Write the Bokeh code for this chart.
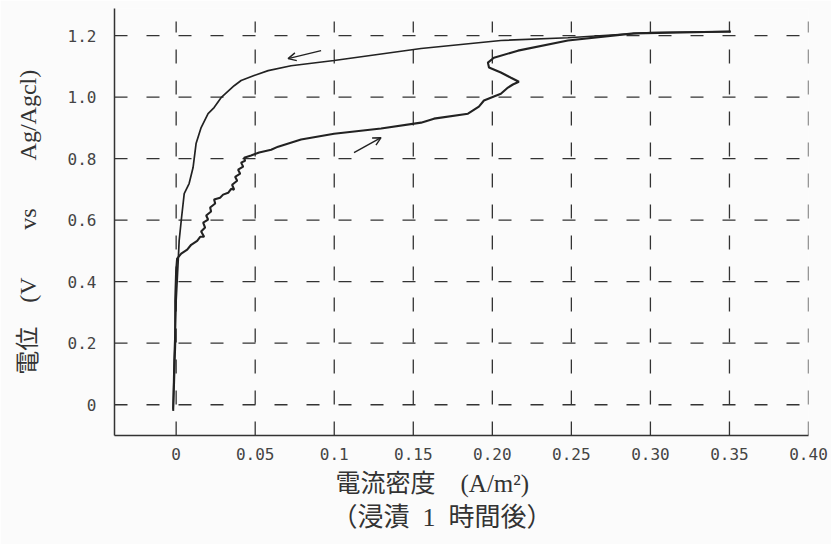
from bokeh.plotting import figure
from bokeh.models import FixedTicker, Arrow, OpenHead, Range1d, Title
from bokeh.embed import file_html
from bokeh.resources import INLINE

# Axis ticks and their printed labels
X_TICKS = [0, 0.05, 0.1, 0.15, 0.2, 0.25, 0.3, 0.35, 0.4]
X_LABELS = ["0", "0.05", "0.1", "0.15", "0.20", "0.25", "0.30", "0.35", "0.40"]
Y_TICKS = [0, 0.2, 0.4, 0.6, 0.8, 1.0, 1.2]
Y_LABELS = ["0", "0.2", "0.4", "0.6", "0.8", "1.0", "1.2"]

# Anodic (forward) sweep: current density (A/m2) vs potential (V vs Ag/AgCl)
fwd_i = [-0.0019, -0.0013, -0.0006, -0.0006, 0.0, 0.0006, 0.0032, 0.0070, 0.0095,
         0.0133, 0.0152, 0.0177, 0.0158, 0.0183, 0.0171, 0.0202, 0.0190, 0.0221,
         0.0215, 0.0247, 0.0240, 0.0278, 0.0297, 0.0329, 0.0348, 0.0367, 0.0354,
         0.0386, 0.0373, 0.0405, 0.0392, 0.0424, 0.0411, 0.0436, 0.0430, 0.0474,
         0.0525, 0.0601, 0.0645, 0.0790, 0.0999, 0.1296, 0.1549, 0.1631, 0.1846,
         0.1915, 0.1947, 0.2010, 0.2054, 0.2099, 0.2130, 0.2168, 0.2118, 0.2054,
         0.1979, 0.1972, 0.2010, 0.2162, 0.2478, 0.2895, 0.3508]
fwd_v = [-0.020, 0.078, 0.198, 0.338, 0.436, 0.475, 0.491, 0.504, 0.520,
         0.533, 0.546, 0.546, 0.563, 0.576, 0.592, 0.602, 0.615, 0.628,
         0.641, 0.654, 0.667, 0.673, 0.683, 0.689, 0.702, 0.699, 0.715,
         0.728, 0.741, 0.751, 0.764, 0.774, 0.787, 0.793, 0.803, 0.810,
         0.820, 0.829, 0.839, 0.862, 0.881, 0.898, 0.917, 0.930, 0.946,
         0.969, 0.989, 1.002, 1.011, 1.031, 1.041, 1.050, 1.063, 1.080,
         1.096, 1.112, 1.128, 1.151, 1.184, 1.207, 1.213]

# Reverse sweep back to the rest potential
rev_i = [0.3508, 0.3003, 0.2478, 0.2054, 0.1549, 0.0999, 0.0727, 0.0582, 0.0493,
         0.0411, 0.0367, 0.0284, 0.0240, 0.0202, 0.0158, 0.0126, 0.0107, 0.0082,
         0.0051, 0.0032, 0.0019, 0.0013, 0.0, -0.0013, -0.0019]
rev_v = [1.213, 1.210, 1.193, 1.184, 1.158, 1.119, 1.102, 1.086, 1.070,
         1.054, 1.037, 0.998, 0.966, 0.946, 0.901, 0.849, 0.771, 0.719,
         0.686, 0.598, 0.533, 0.468, 0.338, 0.143, -0.013]

X_MIN, X_MAX = -0.039, 0.40
Y_MIN, Y_MAX = -0.1, 1.288
GRID_TOP = 1.2455

INK = "#222222"
BG = "#fbfbfb"
SERIF_CJK = "Liberation Serif, Noto Sans CJK JP"

p = figure(width=831, height=544, output_backend="svg", toolbar_location=None,
           x_range=Range1d(X_MIN, X_MAX), y_range=Range1d(Y_MIN, Y_MAX),
           min_border_left=114, min_border_right=23,
           min_border_top=8, min_border_bottom=109)
p.background_fill_color = BG
p.border_fill_color = BG
p.outline_line_color = None
p.xgrid.visible = False
p.ygrid.visible = False

# Dashed plotter-style grid
p.segment(x0=[X_MIN] * len(Y_TICKS), y0=Y_TICKS, x1=[X_MAX] * len(Y_TICKS), y1=Y_TICKS,
          line_color="#333333", line_width=1.3, line_dash="13 19")
p.segment(x0=X_TICKS, y0=[Y_MIN] * len(X_TICKS), x1=X_TICKS, y1=[GRID_TOP] * len(X_TICKS),
          line_color="#333333", line_width=1.3, line_dash="14 17")

# Polarization curve
p.line(fwd_i, fwd_v, line_color=INK, line_width=2.1)
p.line(rev_i, rev_v, line_color=INK, line_width=1.7)

# Sweep direction arrows
p.add_layout(Arrow(end=OpenHead(size=8, line_width=1.4, line_color=INK),
                   x_start=0.0917, y_start=1.151, x_end=0.0708, y_end=1.125,
                   line_color=INK, line_width=1.4))
p.add_layout(Arrow(end=OpenHead(size=8, line_width=1.4, line_color=INK),
                   x_start=0.1125, y_start=0.8195, x_end=0.1296, y_end=0.868,
                   line_color=INK, line_width=1.4))

for ax in (p.xaxis[0], p.yaxis[0]):
    ax.axis_line_color = "#333333"
    ax.axis_line_width = 1.5
    ax.major_tick_line_color = None
    ax.minor_tick_line_color = None
    ax.major_label_text_font = "DejaVu Sans Mono"
    ax.major_label_text_font_size = "16px"
    ax.major_label_text_color = "#444444"

p.xaxis.ticker = FixedTicker(ticks=X_TICKS)
p.xaxis.major_label_overrides = dict(zip(X_TICKS, X_LABELS))
p.xaxis.major_label_standoff = 6

p.yaxis.ticker = FixedTicker(ticks=Y_TICKS)
p.yaxis.major_label_overrides = dict(zip(Y_TICKS, Y_LABELS))
p.yaxis.major_label_standoff = 12
p.yaxis.axis_label = "電位\u3000(V\u3000\u3000vs\u3000\u3000Ag/Agcl)"
p.yaxis.axis_label_text_font = SERIF_CJK
p.yaxis.axis_label_text_font_size = "24px"
p.yaxis.axis_label_text_font_style = "normal"
p.yaxis.axis_label_text_color = "#333333"
p.yaxis.axis_label_standoff = 24

# Two-line caption under the x axis
for text, size, standoff, offset in (("電流密度\u3000(A/m²)", "25px", 11, 221),
                                     ("（浸漬\u20021\u2002時間後）", "26px", -4, 217)):
    p.add_layout(Title(text=text, align="left", offset=offset, standoff=standoff,
                       text_font=SERIF_CJK, text_font_size=size,
                       text_font_style="normal", text_color="#333333"), "below")

open("out.html", "w").write(file_html(p, INLINE))
